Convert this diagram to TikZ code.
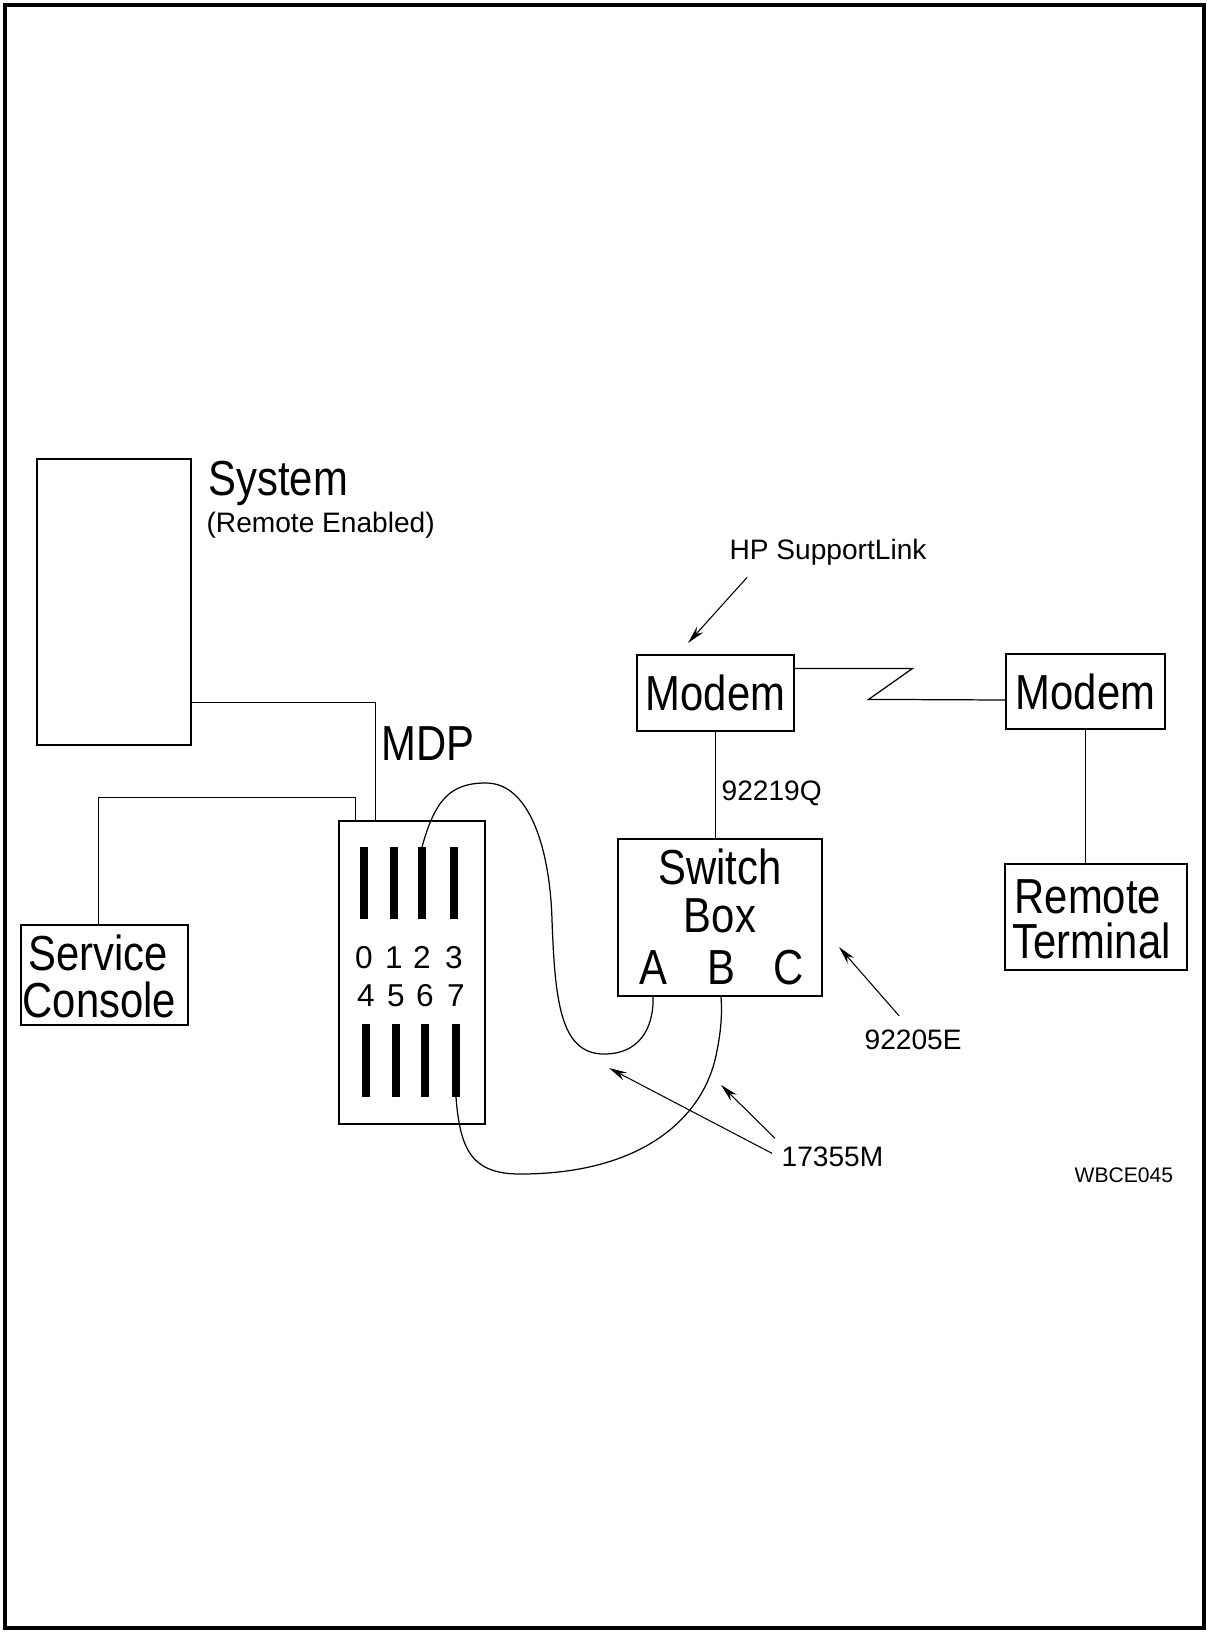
\documentclass[tikz,border=0pt]{standalone}
\usepackage{fontspec}
\setmainfont{Liberation Sans}
\newfontfamily\plotfont{Liberation Sans}[FakeStretch=0.85]
\usetikzlibrary{arrows.meta, positioning, calc}

\begin{document}
\begin{tikzpicture}[x=0.02cm, y=-0.02cm, line width=0.7pt,
    box/.style={draw, rectangle, inner sep=0pt},
    lbl/.style={inner sep=0pt, anchor=base west},
    big/.style={font=\plotfont\fontsize{28}{28}\selectfont},
    small/.style={font=\fontsize{16}{18}\selectfont},
    digit/.style={inner sep=0pt, anchor=base, font=\fontsize{18}{18}\selectfont},
    port/.style={line width=4pt},
    callout/.style={-{Stealth[length=0.36cm, width=0.17cm]}, line width=0.6pt}]
  \useasboundingbox (0,0) rectangle (1207,1632);
  \draw[line width=2pt] (5,5) rectangle (1204,1628);

  % system and console
  \node[box, minimum width=3.08cm, minimum height=5.72cm] (sys) at (114,602) {};
  \node[lbl, big] (sysname) at (208,495) {System};
  \node[lbl, small] (sysnote) at (206,532) {(Remote Enabled)};
  \node[box, minimum width=3.34cm, minimum height=2cm] (console) at (104.5,975) {};
  \node[lbl, big] (conA) at (28,970) {Service};
  \node[lbl, big] (conB) at (22,1017) {Console};

  % MDP panel
  \node[box, minimum width=2.92cm, minimum height=6.06cm] (mdp) at (412,972.5) {};
  \node[lbl, big] (mdpname) at (381,760) {MDP};
  \foreach \n/\x in {0/364,1/394,2/422,3/454} {
    \draw[port] (\x,847) coordinate (port\n) -- (\x,919);
    \node[digit] (num\n) at (\x,968) {\n};
  }
  \foreach \n/\x in {4/366,5/396,6/425,7/456} {
    \draw[port] (\x,1024) -- (\x,1097) coordinate (port\n);
    \node[digit] (num\n) at (\x,1006) {\n};
  }

  % switch box and modems
  \node[box, minimum width=4.08cm, minimum height=3.14cm] (swbox) at (720,917.5) {};
  \node[inner sep=0pt, anchor=base, big] (swtitle) at (720,884) {Switch};
  \node[inner sep=0pt, anchor=base, big] (swsub) at (720,932) {Box};
  \foreach \p/\x in {A/653,B/721,C/789}
    \node[inner sep=0pt, anchor=base, big] (p\p) at (\x,984) {\p};
  \node[box, big, minimum width=3.14cm, minimum height=1.52cm] (modemA) at (715.5,693) {Modem};
  \node[box, big, minimum width=3.18cm, minimum height=1.5cm] (modemB) at (1085.5,691.5) {Modem};
  \node[box, minimum width=3.64cm, minimum height=2.12cm] (term) at (1096,917) {};
  \node[lbl, big] (termA) at (1014,913) {Remote};
  \node[lbl, big] (termB) at (1012,958) {Terminal};

  % wiring
  \draw ($(sys.south east)+(0,-43)$) -| ($(mdp.north west)+(37,0)$);
  \draw ($(console.north west)+(78,0)$) |- ($(mdp.north west)+(17,-23)$)
    -- ($(mdp.north west)+(17,0)$);
  \draw (modemA.south) -- (modemA.south |- swbox.north);
  \node[lbl, small] (cabQ) at (721,800) {92219Q};
  \draw ($(modemA.north east)+(0,14)$) -- ++(118,0) -- ++(-44,31)
    -- ($(modemB.west)+(0,8.5)$);
  \draw (modemB.south) -- (modemB.south |- term.north);
  \draw (port2) .. controls (435,800) and (450,783) .. (486,783)
    .. controls (530,783) and (550,850) .. (552,920)
    .. controls (555,1000) and (560,1054) .. (604,1054)
    .. controls (645,1054) and (654,1020) .. (pA |- swbox.south);
  \draw (port7) .. controls (460,1150) and (472,1174) .. (520,1174)
    .. controls (640,1174) and (700,1120) .. (715,1060)
    .. controls (722,1030) and (722,1010) .. (pB |- swbox.south);

  % callouts
  \node[lbl, small] (hplink) at (729,559) {HP SupportLink};
  \coordinate (hpTip) at (688,643);
  \draw[callout] ($(hplink.south west)+(18,12)$) -- (hpTip);
  \node[lbl, small] (cabE) at (864,1049) {92205E};
  \coordinate (swTip) at (839,947);
  \draw[callout] ($(cabE.north west)+(35,-13)$) -- (swTip);
  \node[lbl, small] (cabM) at (781,1166) {17355M};
  \coordinate (tipA) at (609,1068);
  \coordinate (tipB) at (721,1085);
  \draw[callout] ($(cabM.west)+(-9,-3)$) -- (tipA);
  \draw[callout] ($(cabM.west)+(-6,-18)$) -- (tipB);
  \node[lbl, font=\fontsize{12}{14}\selectfont] (figid) at (1074,1182) {WBCE045};
\end{tikzpicture}
\end{document}
